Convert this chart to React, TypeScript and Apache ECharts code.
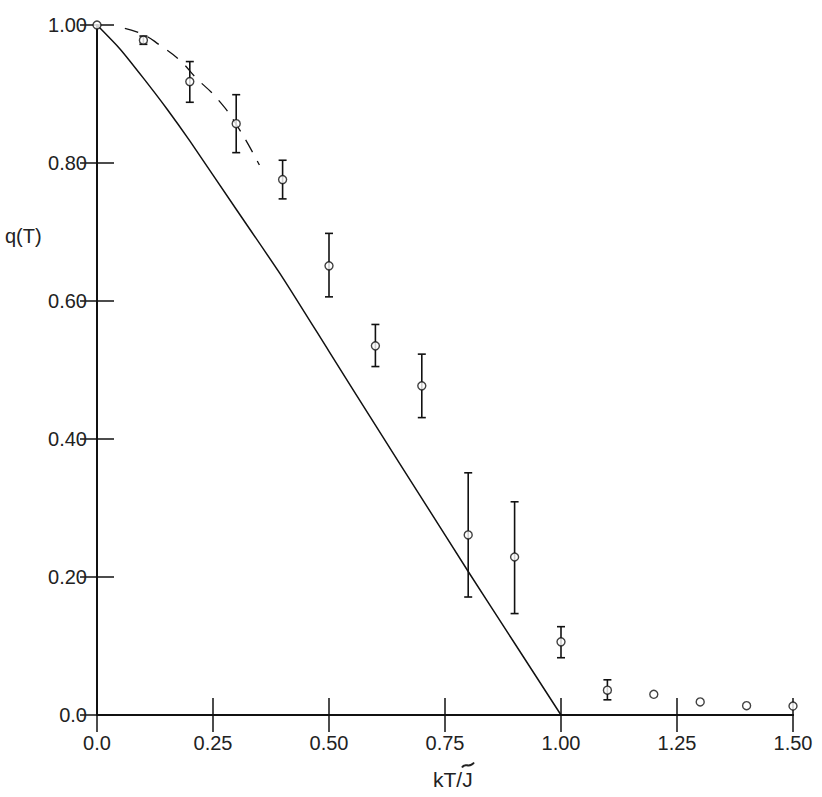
import React, { useEffect, useRef } from "react";
import * as echarts from "echarts";

// Monte Carlo data points: temperature kT/J~ and order parameter q(T)
const tValues = [0.0, 0.1, 0.2, 0.3, 0.4, 0.5, 0.6, 0.7, 0.8, 0.9, 1.0, 1.1, 1.2, 1.3, 1.4, 1.5];
const qValues = [1.0, 0.978, 0.918, 0.857, 0.776, 0.651, 0.535, 0.477, 0.261, 0.229, 0.106, 0.036, 0.03, 0.019, 0.0135, 0.013];
// error bars (null = no bar)
const errLow: (number | null)[] = [null, 0.972, 0.888, 0.815, 0.748, 0.606, 0.505, 0.431, 0.171, 0.147, 0.083, 0.022, null, null, null, null];
const errHigh: (number | null)[] = [null, 0.984, 0.947, 0.899, 0.804, 0.698, 0.566, 0.523, 0.351, 0.309, 0.128, 0.051, null, null, null, null];

// solid theoretical curve
const solidT = [0.0, 0.05, 0.1, 0.15, 0.2, 0.3, 0.4, 0.5, 0.6, 0.7, 0.8, 0.9, 1.0];
const solidQ = [1.0, 0.965, 0.923, 0.879, 0.832, 0.733, 0.634, 0.527, 0.42, 0.314, 0.208, 0.104, 0.0];

// dashed low-temperature curve
const dashT = [0.06, 0.1, 0.135, 0.178, 0.214, 0.258, 0.301, 0.35];
const dashQ = [0.995, 0.986, 0.971, 0.949, 0.923, 0.894, 0.855, 0.797];

const xTicks = ["0.0", "0.25", "0.50", "0.75", "1.00", "1.25", "1.50"];
const yTicks = ["0.0", "0.20", "0.40", "0.60", "0.80", "1.00"];

const FONT = "'Liberation Sans', Arial, Helvetica, sans-serif";
const INK = "#111";

export default function App() {
  const ref = useRef<HTMLDivElement>(null);

  useEffect(() => {
    document.body.style.margin = "0";
    const chart = echarts.init(ref.current!, null, { renderer: "svg" });

    const errData = tValues
      .map((t, i) => [t, errLow[i], errHigh[i]])
      .filter((d) => d[1] !== null);

    const xLabel = (v: number) => {
      const i = Math.round(v / 0.25);
      return xTicks[i] ?? "";
    };
    const yLabel = (v: number) => {
      const i = Math.round(v / 0.2);
      return yTicks[i] ?? "";
    };

    const axisLine = { show: true, lineStyle: { color: INK, width: 2 } };
    const axisTick = { show: true, inside: true, length: 17, lineStyle: { color: INK, width: 1.5 } };

    chart.setOption({
      animation: false,
      backgroundColor: "#fff",
      grid: { left: 97, top: 25, width: 696, height: 690, containLabel: false },
      xAxis: [
        {
          type: "value",
          min: 0,
          max: 1.5,
          interval: 0.25,
          position: "bottom",
          axisLine,
          axisTick,
          splitLine: { show: false },
          axisLabel: {
            formatter: xLabel,
            color: "#222",
            fontFamily: FONT,
            fontSize: 20,
            margin: 18,
          },
        },
        {
          type: "value",
          min: 0,
          max: 1.5,
          interval: 0.25,
          position: "top",
          axisLine,
          axisTick,
          splitLine: { show: false },
          axisLabel: { show: false },
        },
      ],
      yAxis: [
        {
          type: "value",
          min: 0,
          max: 1,
          interval: 0.2,
          position: "left",
          axisLine,
          axisTick,
          splitLine: { show: false },
          axisLabel: {
            formatter: yLabel,
            color: "#222",
            fontFamily: FONT,
            fontSize: 20,
            margin: 10,
          },
        },
        {
          type: "value",
          min: 0,
          max: 1,
          interval: 0.2,
          position: "right",
          axisLine,
          axisTick,
          splitLine: { show: false },
          axisLabel: { show: false },
        },
      ],
      graphic: [
        {
          type: "text",
          left: 5,
          top: 226,
          style: { text: "q(T)", fontFamily: FONT, fontSize: 20, fill: "#222" },
        },
        {
          type: "group",
          left: 433,
          top: 760,
          children: [
            {
              type: "text",
              x: 0,
              y: 8,
              style: { text: "kT/J", fontFamily: FONT, fontSize: 21, fill: "#222" },
            },
            {
              type: "bezierCurve",
              shape: { x1: 29, y1: 7, cpx1: 32, cpy1: 1, cpx2: 36, cpy2: 9, x2: 41, y2: 2 },
              style: { stroke: "#222", lineWidth: 2, fill: null },
            },
          ],
        },
      ],
      series: [
        {
          type: "line",
          data: solidT.map((t, i) => [t, solidQ[i]]),
          symbol: "none",
          smooth: 0.2,
          lineStyle: { color: INK, width: 1.5 },
          z: 2,
        },
        {
          type: "line",
          data: dashT.map((t, i) => [t, dashQ[i]]),
          symbol: "none",
          smooth: true,
          lineStyle: { color: INK, width: 1.3, type: [14, 10] },
          z: 2,
        },
        {
          type: "custom",
          data: errData,
          z: 3,
          renderItem: (params: any, api: any) => {
            const x = api.value(0);
            const lo = api.coord([x, api.value(1)]);
            const hi = api.coord([x, api.value(2)]);
            const w = 4;
            const style = { stroke: INK, lineWidth: 1.6 };
            return {
              type: "group",
              children: [
                { type: "line", shape: { x1: lo[0], y1: lo[1], x2: hi[0], y2: hi[1] }, style },
                { type: "line", shape: { x1: lo[0] - w, y1: lo[1], x2: lo[0] + w, y2: lo[1] }, style },
                { type: "line", shape: { x1: hi[0] - w, y1: hi[1], x2: hi[0] + w, y2: hi[1] }, style },
              ],
            };
          },
        },
        {
          type: "scatter",
          data: tValues.map((t, i) => [t, qValues[i]]),
          symbol: "circle",
          symbolSize: 8,
          itemStyle: { color: "#fff", borderColor: INK, borderWidth: 1.4 },
          z: 4,
        },
      ],
    });

    return () => chart.dispose();
  }, []);

  return <div ref={ref} style={{ width: 822, height: 797 }} />;
}
